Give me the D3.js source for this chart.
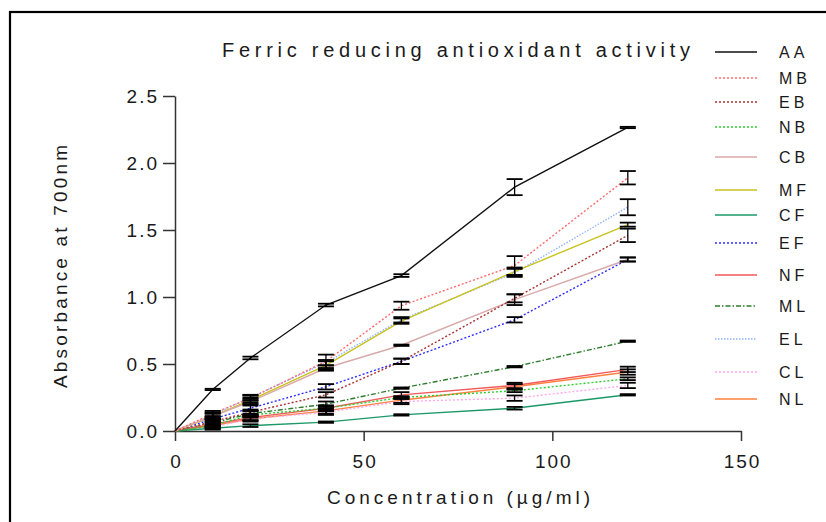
<!DOCTYPE html>
<html>
	<head>
		<meta charset="utf-8">
		<title>Ferric reducing antioxidant activity</title>
		<script src="https://cdn.jsdelivr.net/npm/d3@7"></script>
		<style>
			body { margin: 0; background: #fff; }
			text { font-family: "Liberation Sans", Arial, sans-serif; fill: #1a1a1a; }
		</style>
	</head>
	<body>
		<div id="root"></div>
		<script>
			//concentrations (ug/ml)
			const conc = [0, 10, 20, 40, 60, 90, 120];

			//series names, in legend order
			const names = ["AA", "MB", "EB", "NB", "CB", "MF", "CF", "EF", "NF", "ML", "EL", "CL", "NL"];

			//absorbance values
			const AA = [0, 0.31, 0.545, 0.94, 1.16, 1.82, 2.265];
			const MB = [0, 0.13, 0.245, 0.52, 0.935, 1.235, 1.89];
			const EB = [0, 0.07, 0.14, 0.27, 0.52, 0.99, 1.46];
			const NB = [0, 0.04, 0.12, 0.17, 0.25, 0.30, 0.39];
			const CB = [0, 0.11, 0.22, 0.47, 0.64, 0.98, 1.28];
			const MF = [0, 0.11, 0.23, 0.49, 0.82, 1.19, 1.54];
			const CF = [0, 0.02, 0.04, 0.066, 0.12, 0.17, 0.27];
			const EF = [0, 0.09, 0.17, 0.33, 0.52, 0.83, 1.28];
			const NF = [0, 0.05, 0.10, 0.17, 0.27, 0.34, 0.46];
			const ML = [0, 0.06, 0.13, 0.20, 0.32, 0.48, 0.67];
			const EL = [0, 0.12, 0.25, 0.51, 0.83, 1.18, 1.67];
			const CL = [0, 0.03, 0.09, 0.14, 0.22, 0.245, 0.34];
			const NL = [0, 0.04, 0.09, 0.15, 0.23, 0.33, 0.44];

			//error (+/-) values
			const errAA = [0, 0.005, 0.01, 0.01, 0.01, 0.06, 0.005];
			const errMB = [0, 0.02, 0.02, 0.05, 0.03, 0.07, 0.05];
			const errEB = [0, 0.02, 0.02, 0.02, 0.02, 0.03, 0.05];
			const errNB = [0, 0.02, 0.01, 0.02, 0.01, 0.01, 0.01];
			const errCB = [0, 0.02, 0.02, 0.02, 0.005, 0.04, 0.015];
			const errMF = [0, 0.02, 0.02, 0.03, 0.02, 0.03, 0.015];
			const errCF = [0, 0.01, 0.01, 0.005, 0.005, 0.01, 0.005];
			const errEF = [0, 0.02, 0.02, 0.02, 0.02, 0.02, 0.015];
			const errNF = [0, 0.02, 0.02, 0.02, 0.02, 0.02, 0.02];
			const errML = [0, 0.02, 0.02, 0.02, 0.005, 0.005, 0.005];
			const errEL = [0, 0.02, 0.02, 0.02, 0.02, 0.03, 0.06];
			const errCL = [0, 0.01, 0.01, 0.02, 0.02, 0.02, 0.02];
			const errNL = [0, 0.01, 0.02, 0.02, 0.02, 0.02, 0.02];

			const xTicks = [0, 50, 100, 150];
			const yTicks = [0, 0.5, 1.0, 1.5, 2.0, 2.5];

			const values = [AA, MB, EB, NB, CB, MF, CF, EF, NF, ML, EL, CL, NL];
			const errors = [errAA, errMB, errEB, errNB, errCB, errMF, errCF, errEF, errNF, errML, errEL, errCL, errNL];

			//line styles per series
			const colors = ["#111111", "#ff6a6a", "#a83232", "#2ccf2c", "#d8aaaa", "#c9c21e", "#1c9868", "#2f2fff", "#f05a5a", "#2e7d2e", "#8fb4ff", "#ffa8ec", "#ff8040"];
			const dashes = [null, "2,2", "2,2", "2,2", null, null, null, "2,2", null, "5,2,1.5,2", "1.5,1.5", "2,2", null];
			const legendY = [52, 78, 102, 127, 157, 190, 215, 243, 275, 306, 339, 372, 399];

			const width = 826;
			const height = 522;

			const svg = d3.select("#root")
			.append("svg")
			.attr("width", width)
			.attr("height", height);

			//frame
			svg.append("rect")
			.attr("x", 10).attr("y", 12)
			.attr("width", 830).attr("height", 530)
			.attr("fill", "none")
			.attr("stroke", "#000")
			.attr("stroke-width", 2.2);

			const xScale = d3.scaleLinear().domain([0, 150]).range([175, 741]);
			const yScale = d3.scaleLinear().domain([0, 2.5]).range([431, 96]);

			//x axis
			const xAxis = svg.append("g")
			.attr("transform", "translate(0,431)")
			.call(d3.axisBottom(xScale).tickValues(xTicks).tickSize(10).tickSizeOuter(0).tickPadding(14));
			xAxis.selectAll("path, line").attr("stroke", "#333").attr("stroke-width", 1.5);
			xAxis.selectAll("text")
			.attr("font-size", 19).attr("letter-spacing", "2px").attr("fill", "#1a1a1a")
			.style("font-family", "Liberation Sans, Arial, sans-serif")
			.attr("dx", 1);

			//y axis
			const yAxis = svg.append("g")
			.attr("transform", "translate(175,0)")
			.call(d3.axisLeft(yScale).tickValues(yTicks).tickFormat(d3.format(".1f")).tickSize(12).tickSizeOuter(0).tickPadding(6));
			yAxis.selectAll("path, line").attr("stroke", "#333").attr("stroke-width", 1.5);
			yAxis.selectAll("text")
			.attr("font-size", 19).attr("letter-spacing", "2px").attr("fill", "#1a1a1a")
			.style("font-family", "Liberation Sans, Arial, sans-serif")
			.attr("dx", 2);

			//lines
			const line = d3.line()
			.x((d, i) => xScale(conc[i]))
			.y(d => yScale(d));

			const plot = svg.append("g");
			//draw from last to first so AA stays on top
			for (let s = values.length - 1; s >= 0; s--) {
				plot.append("path")
				.datum(values[s])
				.attr("d", line)
				.attr("fill", "none")
				.attr("stroke", colors[s])
				.attr("stroke-width", 1.4)
				.attr("stroke-dasharray", dashes[s]);
			}

			//error bars
			const eb = svg.append("g").attr("stroke", "#000").attr("stroke-width", 1.8);
			values.forEach((vals, s) => {
				vals.forEach((v, i) => {
					if (conc[i] === 0) return;
					const e = errors[s][i];
					const x = xScale(conc[i]);
					eb.append("line")
					.attr("x1", x).attr("x2", x)
					.attr("y1", yScale(v - e)).attr("y2", yScale(v + e))
					.attr("stroke-width", 1.3);
					[v - e, v + e].forEach(c => {
						eb.append("line")
						.attr("x1", x - 8).attr("x2", x + 8)
						.attr("y1", yScale(c)).attr("y2", yScale(c));
					});
				});
			});

			//title
			svg.append("text")
			.attr("x", 222).attr("y", 57)
			.attr("font-size", 20)
			.attr("textLength", 468).attr("lengthAdjust", "spacing")
			.text("Ferric reducing antioxidant activity");

			//x axis label
			svg.append("text")
			.attr("x", 327).attr("y", 504)
			.attr("font-size", 19)
			.attr("textLength", 263).attr("lengthAdjust", "spacing")
			.text("Concentration (µg/ml)");

			//y axis label
			svg.append("text")
			.attr("transform", "translate(67,388) rotate(-90)")
			.attr("font-size", 19)
			.attr("textLength", 243).attr("lengthAdjust", "spacing")
			.text("Absorbance at 700nm");

			//legend
			const legend = svg.append("g");
			names.forEach((n, s) => {
				legend.append("line")
				.attr("x1", 715).attr("x2", 757)
				.attr("y1", legendY[s]).attr("y2", legendY[s])
				.attr("stroke", colors[s])
				.attr("stroke-width", 1.6)
				.attr("stroke-dasharray", dashes[s]);
				legend.append("text")
				.attr("x", 779).attr("y", legendY[s] + 6)
				.attr("font-size", 16)
				.attr("letter-spacing", "4px")
				.text(n);
			});
		</script>
	</body>
</html>
